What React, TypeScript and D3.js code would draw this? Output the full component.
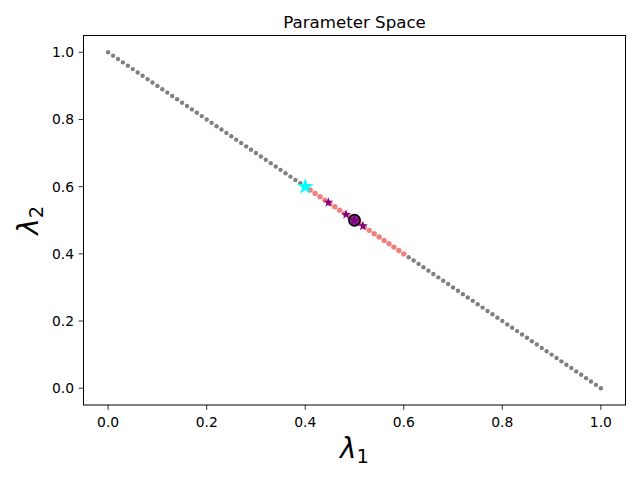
import React from "react";
import * as d3 from "d3";

const gridLambda1: number[] = Array.from({ length: 101 }, (_, i) => +(i / 100).toFixed(2));
const regionLambda1: number[] = [0.40,0.41,0.42,0.43,0.44,0.45,0.46,0.47,0.48,0.49,0.50,0.51,0.52,0.53,0.54,0.55,0.56,0.57,0.58,0.59,0.60];
const startPoint: number[] = [0.40, 0.60];
const optimumPoint: number[] = [0.50, 0.50];
const sampleLambda1: number[] = [0.447, 0.483, 0.50, 0.517];
const xTicks: number[] = [0, 0.2, 0.4, 0.6, 0.8, 1.0];
const yTicks: number[] = [0, 0.2, 0.4, 0.6, 0.8, 1.0];

const W = 640, H = 480;
const L = 83.5, R = 625.5, T = 35.5, B = 405;

export default function App() {
  const x = d3.scaleLinear().domain([-0.05, 1.05]).range([L, R]);
  const y = d3.scaleLinear().domain([-0.05, 1.05]).range([B, T]);
  const starBig = d3.symbol().type(d3.symbolStar).size(85)()!;
  const starSmall = d3.symbol().type(d3.symbolStar).size(30)()!;
  const font = "DejaVu Sans, sans-serif";
  return (
    <svg width={W} height={H} style={{ position: "absolute", left: 0, top: 0, background: "#fff" }} fontFamily={font}>
      <rect x={0} y={0} width={W} height={H} fill="#fff" />
      <text x={(L + R) / 2} y={27.5} textAnchor="middle" fontSize={16.67} fill="#000">Parameter Space</text>
      {gridLambda1.filter(v => v < 0.395 || v > 0.605).map((v, i) => (
        <circle key={"g" + i} cx={x(v)} cy={y(1 - v)} r={2.2} fill="#808080" />
      ))}
      {regionLambda1.map((v, i) => (
        <circle key={"s" + i} cx={x(v)} cy={y(1 - v)} r={2.7} fill="#F08080" />
      ))}
      <path d={starBig} transform={`translate(${x(startPoint[0])},${y(startPoint[1])})`} fill="#00FFFF" />
      <circle cx={x(optimumPoint[0])} cy={y(optimumPoint[1])} r={5.6} fill="#8a1c8a" stroke="#000" strokeWidth={1.6} />
      {sampleLambda1.map((v, i) => (
        <path key={"p" + i} d={starSmall} transform={`translate(${x(v)},${y(1 - v)})`} fill="#800080" />
      ))}
      <rect x={L} y={T} width={R - L} height={B - T} fill="none" stroke="#000" strokeWidth={1} />
      {xTicks.map((t, i) => (
        <g key={"xt" + i}>
          <line x1={x(t)} x2={x(t)} y1={B} y2={B + 4.9} stroke="#000" strokeWidth={0.8} />
          <text x={x(t)} y={B + 21.5} textAnchor="middle" fontSize={13.89} fill="#000">{t.toFixed(1)}</text>
        </g>
      ))}
      {yTicks.map((t, i) => (
        <g key={"yt" + i}>
          <line x1={L - 4.9} x2={L} y1={y(t)} y2={y(t)} stroke="#000" strokeWidth={0.8} />
          <text x={L - 9.5} y={y(t) + 5} textAnchor="end" fontSize={13.89} fill="#000">{t.toFixed(1)}</text>
        </g>
      ))}
      <text x={(L + R) / 2} y={458} textAnchor="middle" fontSize={27.8} fill="#000">
        <tspan fontStyle="italic">λ</tspan>
        <tspan fontSize={19.5} dy={5}>1</tspan>
      </text>
      <text transform={`translate(38,${(T + B) / 2}) rotate(-90)`} textAnchor="middle" fontSize={27.8} fill="#000">
        <tspan fontStyle="italic">λ</tspan>
        <tspan fontSize={19.5} dy={5}>2</tspan>
      </text>
    </svg>
  );
}
